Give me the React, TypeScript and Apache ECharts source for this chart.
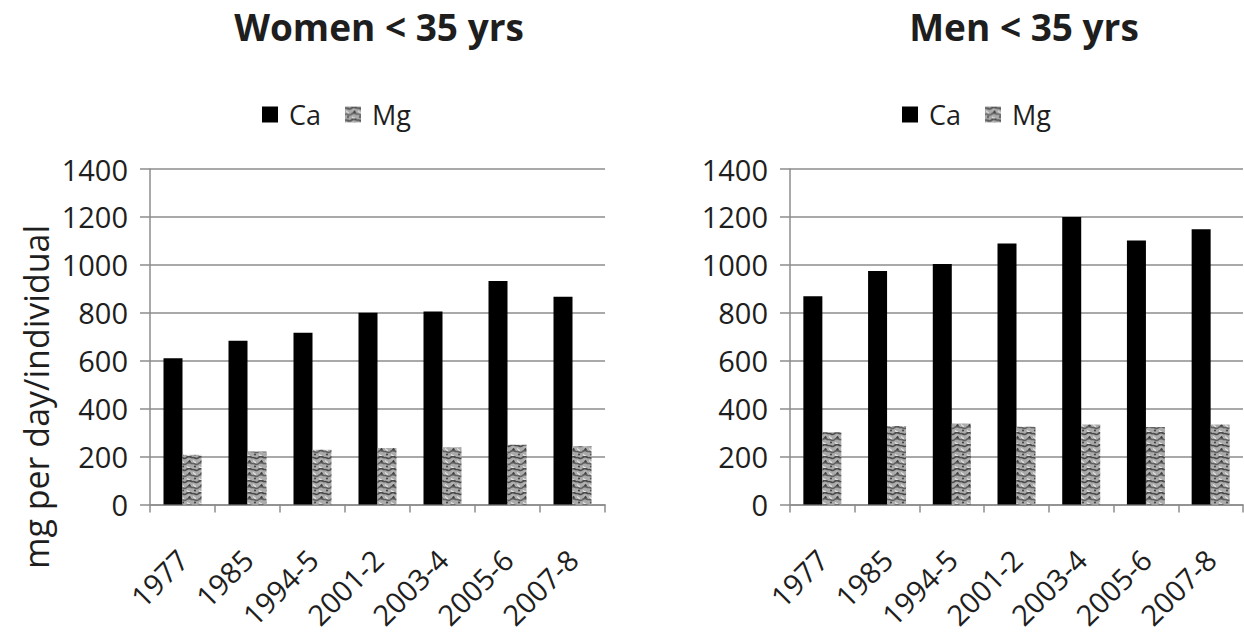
import React, { useEffect, useRef } from "react";
import * as echarts from "echarts";

const categories = ["1977", "1985", "1994-5", "2001-2", "2003-4", "2005-6", "2007-8"];
const womenCa = [610, 683, 716, 800, 805, 932, 867];
const womenMg = [207, 221, 228, 235, 239, 249, 243];
const menCa = [869, 974, 1003, 1089, 1200, 1102, 1148];
const menMg = [301, 327, 338, 324, 334, 323, 333];
const titles = ["Women < 35 yrs", "Men < 35 yrs"];
const seriesNames = ["Ca", "Mg"];
const yAxisTitle = "mg per day/individual";
const yMin = 0;
const yMax = 1400;
const yStep = 200;

const FONT = "'Open Sans', 'Noto Sans', sans-serif";
const TEXT = "#1e1e1e";
const GRID = "#8c8c8c";

const tileSvg =
  "<svg xmlns='http://www.w3.org/2000/svg' width='12' height='12'>" +
  "<rect width='12' height='12' fill='#ababab'/>" +
  "<path d='M0 2 C2 0 4 4 6 2 S10 0 12 2' stroke='#4a4a4a' stroke-width='1.7' fill='none'/>" +
  "<path d='M0 8 C2 6 4 10 6 8 S10 6 12 8' stroke='#606060' stroke-width='1.7' fill='none'/>" +
  "<path d='M1 4.5 C3 5.5 2 6.5 4 6.5' stroke='#e4e4e4' stroke-width='1.3' fill='none'/>" +
  "<path d='M7 10.5 C9 11.5 8 12 10 12' stroke='#e4e4e4' stroke-width='1.3' fill='none'/>" +
  "<path d='M8 4 C9 5 10 4 11 5.5' stroke='#d8d8d8' stroke-width='1.1' fill='none'/>" +
  "<circle cx='9.5' cy='5.2' r='1.2' fill='#3f3f3f'/>" +
  "<circle cx='3' cy='10.5' r='1.1' fill='#484848'/>" +
  "</svg>";
const tileUrl = "data:image/svg+xml;charset=utf-8," + encodeURIComponent(tileSvg);

const mgFill: any = { image: tileUrl, repeat: "repeat", imageWidth: 12, imageHeight: 12 };

export default function App() {
  const ref = useRef<HTMLDivElement>(null);

  useEffect(() => {
    document.body.style.margin = "0";
    if (!ref.current) return;
    const chart = echarts.init(ref.current, null, { renderer: "svg" });

    const grids = [
      { left: 150, top: 169, width: 455, height: 339 },
      { left: 790, top: 169, width: 453, height: 339 },
    ];

    const xAxes = grids.map((_, i) => ({
      type: "category",
      gridIndex: i,
      data: categories,
      axisLine: { show: true, lineStyle: { color: GRID, width: 1.5 } },
      axisTick: { show: true, length: 8, lineStyle: { color: GRID, width: 1.5 } },
      axisLabel: {
        rotate: 45,
        margin: 50,
        fontSize: 29,
        fontFamily: FONT,
        color: TEXT,
        interval: 0,
      },
    }));

    const yAxes = grids.map((_, i) => ({
      type: "value",
      gridIndex: i,
      min: yMin,
      max: yMax,
      interval: yStep,
      axisLine: { show: true, lineStyle: { color: GRID, width: 1.5 } },
      axisTick: { show: true, length: 10, lineStyle: { color: GRID, width: 1.5 } },
      splitLine: { show: true, lineStyle: { color: GRID, width: 1.5 } },
      axisLabel: {
        margin: 22,
        fontSize: 29,
        fontFamily: FONT,
        color: TEXT,
        formatter: (v: number) => String(v),
      },
    }));

    const series: any[] = [];
    const data = [
      [womenCa, womenMg],
      [menCa, menMg],
    ];
    data.forEach((pair, g) => {
      series.push({
        name: seriesNames[0],
        type: "bar",
        xAxisIndex: g,
        yAxisIndex: g,
        data: pair[0],
        barWidth: 19,
        barGap: "0%",
        itemStyle: { color: "#000000" },
      });
      series.push({
        name: seriesNames[1],
        type: "bar",
        xAxisIndex: g,
        yAxisIndex: g,
        data: pair[1],
        barWidth: 19,
        barGap: "0%",
        itemStyle: { color: mgFill },
      });
    });

    const legendBase = {
      data: seriesNames,
      top: 96,
      icon: "rect",
      itemWidth: 16,
      itemHeight: 16,
      itemGap: 24,
      textStyle: { fontSize: 27, fontFamily: FONT, color: TEXT, padding: [0, 0, 0, 6] },
    };

    chart.setOption({
      animation: false,
      backgroundColor: "#ffffff",
      title: [
        {
          text: titles[0],
          left: 374,
          top: 3,
          textAlign: "center",
          textStyle: { fontSize: 37, fontWeight: "bold", fontFamily: FONT, color: TEXT },
        },
        {
          text: titles[1],
          left: 1019,
          top: 3,
          textAlign: "center",
          textStyle: { fontSize: 37, fontWeight: "bold", fontFamily: FONT, color: TEXT },
        },
      ],
      legend: [
        { ...legendBase, left: 257 },
        { ...legendBase, left: 897 },
      ],
      grid: grids,
      xAxis: xAxes,
      yAxis: yAxes,
      series,
      graphic: [
        {
          type: "text",
          x: 36,
          y: 397,
          rotation: Math.PI / 2,
          style: {
            text: yAxisTitle,
            fontSize: 34,
            fontFamily: FONT,
            fill: TEXT,
            textAlign: "center",
            textVerticalAlign: "middle",
          },
        },
      ],
    });

    return () => chart.dispose();
  }, []);

  return <div ref={ref} style={{ width: 1244, height: 632 }} />;
}
